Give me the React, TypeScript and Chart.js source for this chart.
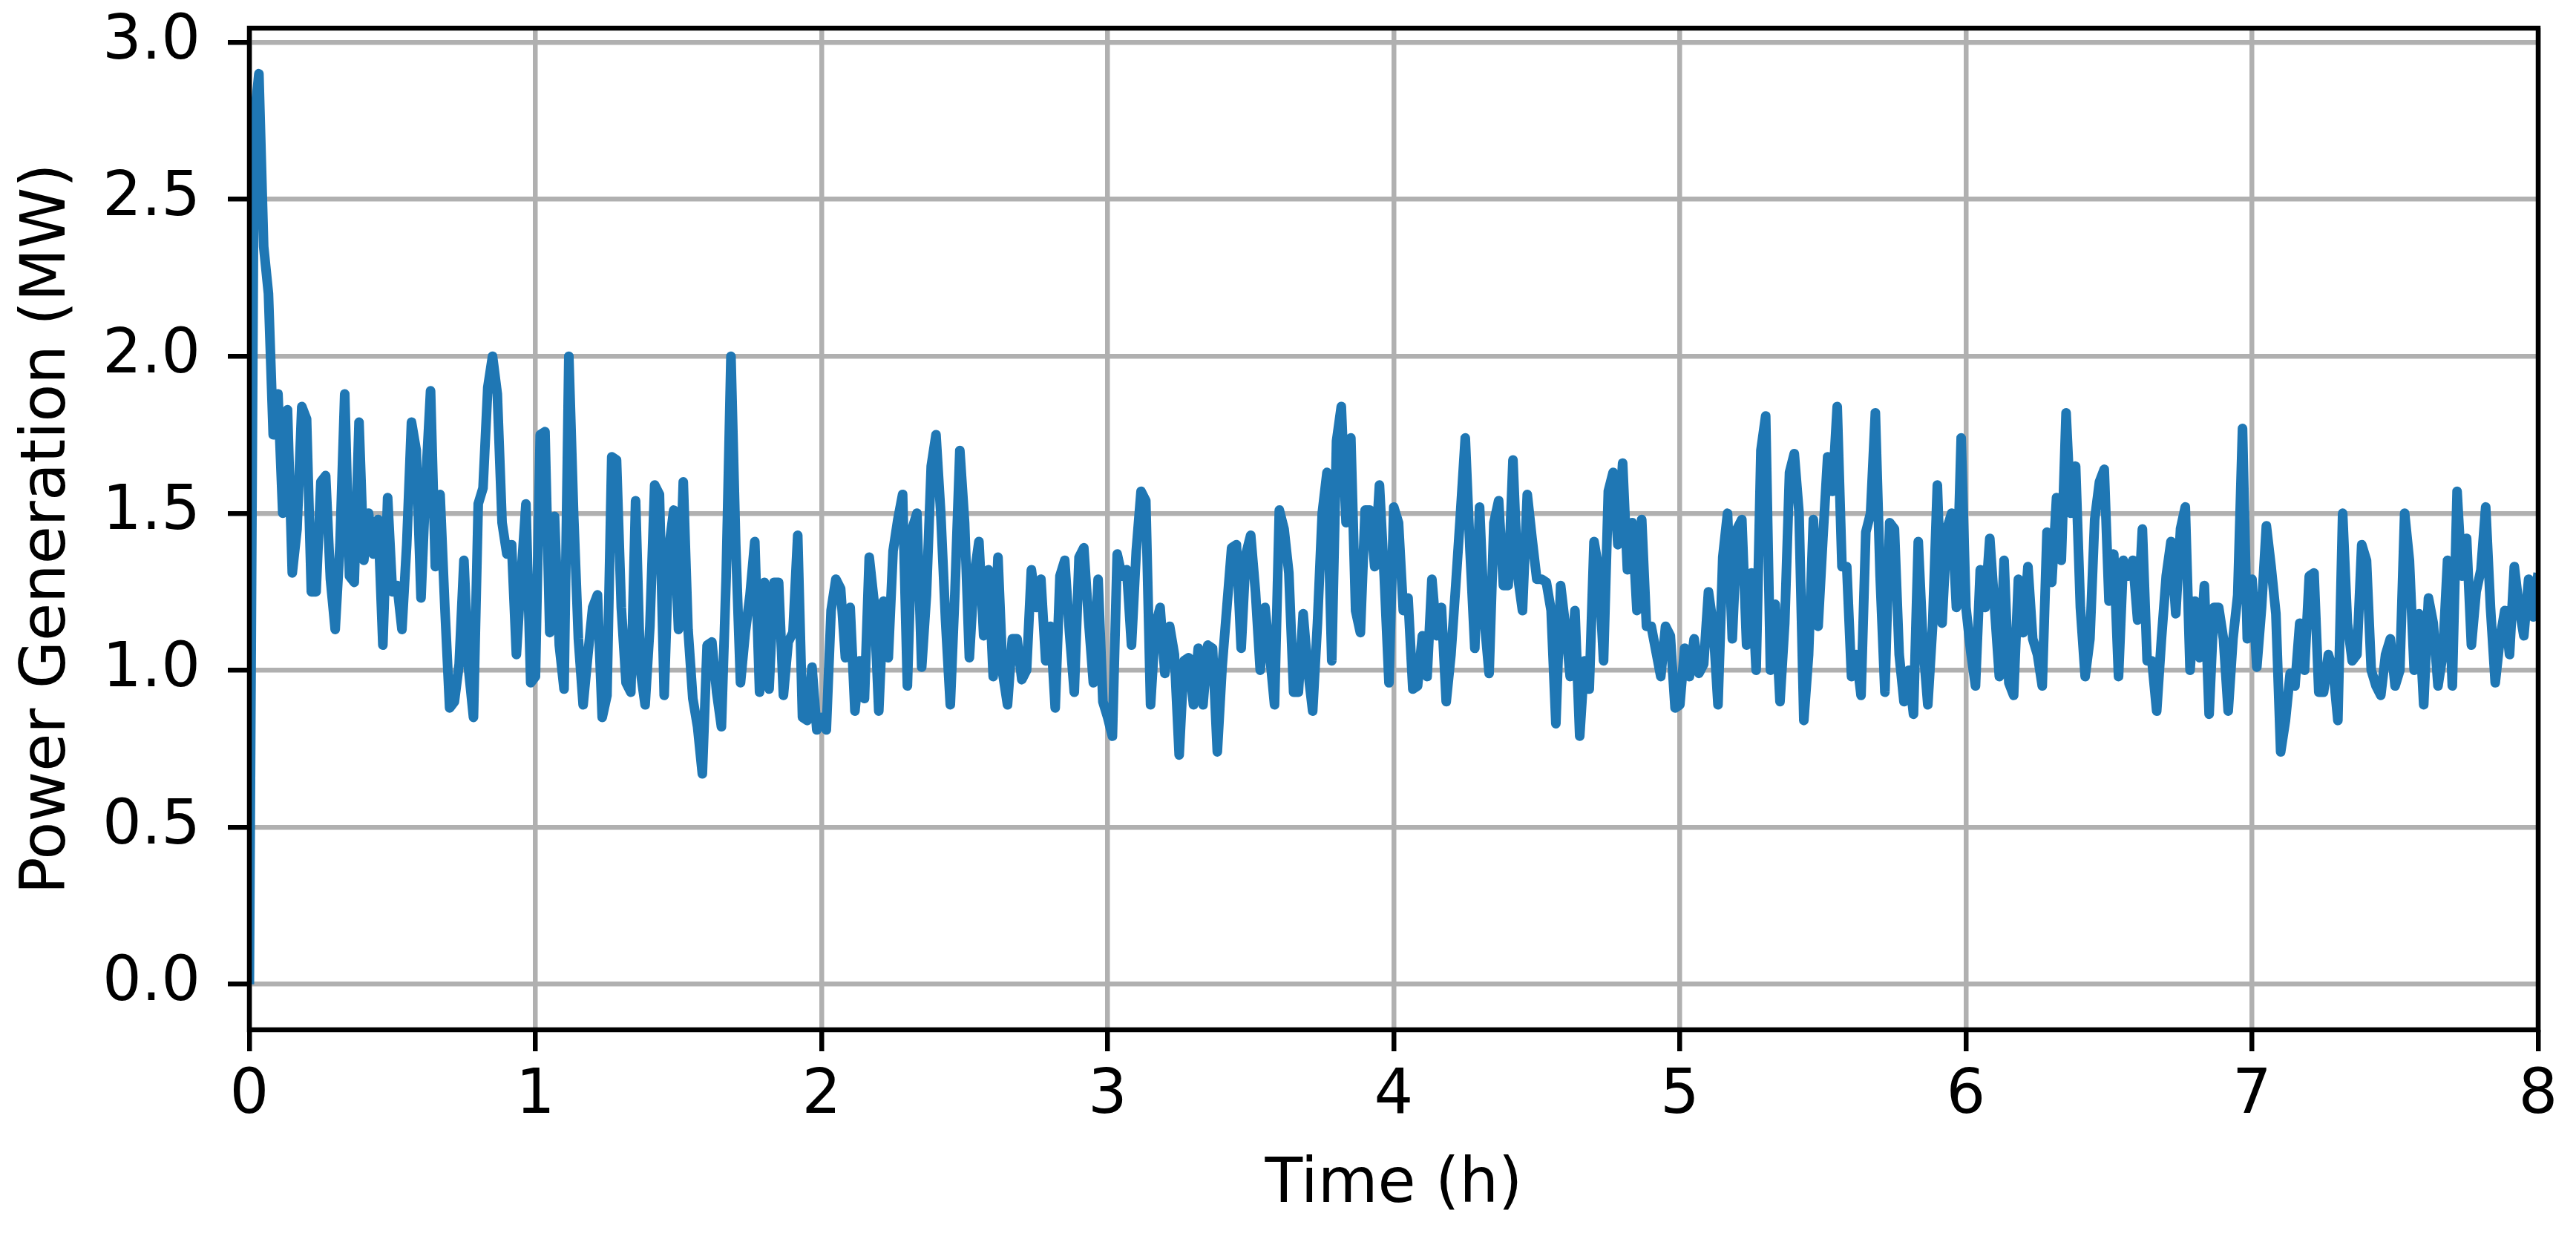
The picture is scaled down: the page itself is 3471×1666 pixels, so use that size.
import { useEffect, useRef } from "react"
import Chart from "chart.js/auto"

// Power output, one value per minute, read hour by hour off the plot
const hour0 = [0.0, 2.75, 2.9, 2.35, 2.2, 1.75, 1.88, 1.5, 1.83, 1.31, 1.45, 1.84, 1.8, 1.25, 1.25, 1.6, 1.62, 1.29, 1.13, 1.4, 1.88, 1.3, 1.28, 1.79, 1.35, 1.5, 1.37, 1.48, 1.08, 1.55, 1.25, 1.27, 1.13, 1.4, 1.79, 1.7, 1.23, 1.6, 1.89, 1.33, 1.56, 1.2, 0.88, 0.9, 1.02, 1.35, 1.0, 0.85, 1.53, 1.58, 1.9, 2.0, 1.88, 1.47, 1.37, 1.4, 1.05, 1.3, 1.53, 0.96]
const hour1 = [0.98, 1.75, 1.76, 1.12, 1.49, 1.08, 0.94, 2.0, 1.5, 1.1, 0.89, 1.05, 1.2, 1.24, 0.85, 0.92, 1.68, 1.67, 1.2, 0.96, 0.93, 1.54, 1.0, 0.89, 1.14, 1.59, 1.56, 0.92, 1.39, 1.51, 1.13, 1.6, 1.13, 0.91, 0.82, 0.67, 1.08, 1.09, 0.93, 0.82, 1.3, 2.0, 1.4, 0.96, 1.12, 1.24, 1.41, 0.93, 1.28, 0.94, 1.28, 1.28, 0.92, 1.09, 1.12, 1.43, 0.85, 0.84, 1.01, 0.81]
const hour2 = [0.85, 0.81, 1.19, 1.29, 1.26, 1.04, 1.2, 0.87, 1.03, 0.91, 1.36, 1.22, 0.87, 1.22, 1.04, 1.38, 1.48, 1.56, 0.95, 1.45, 1.5, 1.01, 1.24, 1.65, 1.75, 1.5, 1.16, 0.89, 1.26, 1.7, 1.47, 1.04, 1.3, 1.41, 1.11, 1.32, 0.98, 1.36, 0.99, 0.89, 1.1, 1.1, 0.97, 1.0, 1.32, 1.2, 1.29, 1.03, 1.14, 0.88, 1.3, 1.35, 1.12, 0.93, 1.36, 1.39, 1.16, 0.96, 1.29, 0.9]
const hour3 = [0.85, 0.79, 1.37, 1.3, 1.32, 1.08, 1.38, 1.57, 1.54, 0.89, 1.14, 1.2, 0.99, 1.14, 1.05, 0.73, 1.03, 1.04, 0.89, 1.07, 0.89, 1.08, 1.07, 0.74, 1.01, 1.2, 1.39, 1.4, 1.07, 1.37, 1.43, 1.25, 1.0, 1.2, 1.05, 0.89, 1.51, 1.45, 1.31, 0.93, 0.93, 1.18, 1.0, 0.87, 1.15, 1.5, 1.63, 1.03, 1.73, 1.84, 1.47, 1.74, 1.19, 1.12, 1.51, 1.51, 1.33, 1.59, 1.3, 0.96]
const hour4 = [1.52, 1.47, 1.19, 1.23, 0.94, 0.95, 1.11, 0.98, 1.29, 1.11, 1.2, 0.9, 1.05, 1.27, 1.5, 1.74, 1.38, 1.07, 1.52, 1.16, 0.99, 1.47, 1.54, 1.27, 1.27, 1.67, 1.3, 1.19, 1.56, 1.42, 1.29, 1.29, 1.28, 1.19, 0.83, 1.27, 1.14, 0.98, 1.19, 0.79, 1.03, 0.94, 1.41, 1.32, 1.03, 1.57, 1.63, 1.4, 1.66, 1.32, 1.47, 1.19, 1.48, 1.14, 1.14, 1.06, 0.98, 1.14, 1.11, 0.88]
const hour5 = [0.89, 1.07, 0.98, 1.1, 0.99, 1.02, 1.25, 1.14, 0.89, 1.36, 1.5, 1.1, 1.45, 1.48, 1.08, 1.31, 1.0, 1.7, 1.81, 1.0, 1.21, 0.9, 1.15, 1.63, 1.69, 1.5, 0.84, 1.05, 1.48, 1.14, 1.42, 1.68, 1.57, 1.84, 1.33, 1.33, 0.98, 1.05, 0.92, 1.44, 1.5, 1.82, 1.3, 0.93, 1.47, 1.45, 1.05, 0.9, 1.0, 0.86, 1.41, 1.08, 0.89, 1.14, 1.59, 1.15, 1.45, 1.5, 1.2, 1.74]
const hour6 = [1.2, 1.06, 0.95, 1.32, 1.2, 1.42, 1.2, 0.98, 1.35, 0.96, 0.92, 1.29, 1.12, 1.33, 1.1, 1.05, 0.95, 1.44, 1.28, 1.55, 1.35, 1.82, 1.5, 1.65, 1.2, 0.98, 1.1, 1.48, 1.6, 1.64, 1.22, 1.37, 0.98, 1.35, 1.3, 1.35, 1.16, 1.45, 1.03, 1.03, 0.87, 1.1, 1.3, 1.41, 1.18, 1.45, 1.52, 1.0, 1.22, 1.04, 1.27, 0.86, 1.2, 1.2, 1.1, 0.87, 1.1, 1.24, 1.77, 1.1]
// last hour also holds the 8:00 end point
const hour7 = [1.29, 1.01, 1.2, 1.46, 1.33, 1.18, 0.74, 0.84, 0.99, 0.95, 1.15, 1.0, 1.3, 1.31, 0.93, 0.93, 1.05, 1.0, 0.84, 1.5, 1.15, 1.03, 1.05, 1.4, 1.35, 1.0, 0.95, 0.92, 1.05, 1.1, 0.95, 1.0, 1.5, 1.35, 1.0, 1.18, 0.89, 1.23, 1.15, 0.95, 1.05, 1.35, 0.95, 1.57, 1.3, 1.42, 1.08, 1.25, 1.32, 1.52, 1.2, 0.96, 1.1, 1.19, 1.05, 1.33, 1.2, 1.11, 1.29, 1.17, 1.31]

const xTicks = [0, 1, 2, 3, 4, 5, 6, 7, 8]
const yTicks = [0, 0.5, 1.0, 1.5, 2.0, 2.5, 3.0]

const WIDTH = 3471
const HEIGHT = 1666
const FONT = "DejaVu Sans"

const power = [...hour0, ...hour1, ...hour2, ...hour3, ...hour4, ...hour5, ...hour6, ...hour7]

// spines on all four sides, drawn over the line like matplotlib
const framePlugin = {
  id: "frame",
  afterDatasetsDraw(chart: any) {
    const { ctx, chartArea } = chart
    ctx.save()
    ctx.strokeStyle = "#000"
    ctx.lineWidth = 6.5
    ctx.strokeRect(chartArea.left, chartArea.top, chartArea.right - chartArea.left, chartArea.bottom - chartArea.top)
    ctx.restore()
  },
}

export default function App() {
  const canvasRef = useRef<HTMLCanvasElement>(null)
  const chartRef = useRef<Chart | null>(null)

  useEffect(() => {
    document.body.style.margin = "0"
    if (!canvasRef.current) return
    if (chartRef.current) chartRef.current.destroy()

    const points = power.map((v, i) => ({ x: i / 60, y: v }))

    chartRef.current = new Chart(canvasRef.current, {
      type: "line",
      data: {
        datasets: [
          {
            data: points,
            borderColor: "#1f77b4",
            borderWidth: 13,
            borderJoinStyle: "round",
            pointRadius: 0,
            tension: 0,
            clip: 0,
          },
        ],
      },
      options: {
        animation: false,
        responsive: false,
        devicePixelRatio: 1,
        layout: { padding: { top: 38, right: 51, left: 0, bottom: 0 } },
        plugins: {
          legend: { display: false },
          tooltip: { enabled: false },
        },
        scales: {
          x: {
            type: "linear",
            min: 0,
            max: 8,
            afterBuildTicks: (scale: any) => {
              scale.ticks = xTicks.map((v) => ({ value: v }))
            },
            afterFit: (scale: any) => {
              scale.height = HEIGHT - 1388
              scale.paddingLeft = 0
              scale.paddingRight = 0
            },
            ticks: {
              color: "#000",
              font: { family: FONT, size: 83 },
              padding: 12,
              maxRotation: 0,
              callback: (v: any) => String(v),
            },
            grid: {
              color: "#b0b0b0",
              lineWidth: 6.5,
              tickLength: 29,
              tickColor: "#000",
              tickWidth: 6.5,
            },
            border: { display: false },
            title: {
              display: true,
              text: "Time (h)",
              color: "#000",
              font: { family: FONT, size: 83 },
              padding: { top: 0, bottom: 18 },
            },
          },
          y: {
            min: -0.145,
            max: 3.045,
            afterBuildTicks: (scale: any) => {
              scale.ticks = yTicks.map((v) => ({ value: v }))
            },
            afterFit: (scale: any) => {
              scale.width = 336
              scale.paddingTop = 0
              scale.paddingBottom = 0
            },
            ticks: {
              color: "#000",
              font: { family: FONT, size: 83 },
              padding: 37,
              callback: (v: any) => Number(v).toFixed(1),
            },
            grid: {
              color: "#b0b0b0",
              lineWidth: 6.5,
              tickLength: 29,
              tickColor: "#000",
              tickWidth: 6.5,
            },
            border: { display: false },
            title: {
              display: true,
              text: "Power Generation (MW)",
              color: "#000",
              font: { family: FONT, size: 83 },
              padding: { top: 16, bottom: 0 },
            },
          },
        },
      },
      plugins: [framePlugin],
    })

    return () => {
      if (chartRef.current) {
        chartRef.current.destroy()
        chartRef.current = null
      }
    }
  }, [])

  return (
    <div style={{ width: WIDTH, height: HEIGHT, background: "#fff" }}>
      <canvas ref={canvasRef} width={WIDTH} height={HEIGHT} />
    </div>
  )
}
